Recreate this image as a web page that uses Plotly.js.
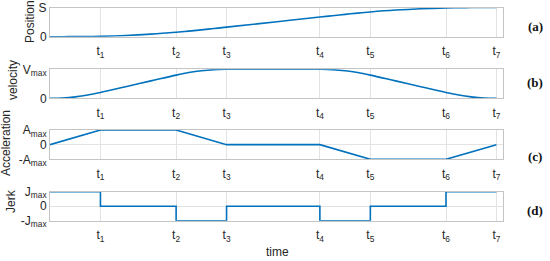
<!DOCTYPE html>
<html>
<head>
<meta charset="utf-8">
<script src="https://cdn.plot.ly/plotly-3.0.1.min.js"></script>
<style>html,body{margin:0;padding:0;background:#fff;}#chart{width:550px;height:261px;}</style>
</head>
<body>
<div id="chart"></div>
<script>
// switching instants t1..t7 (normalised time units)
const tickTimes = [1, 2.5, 3.5, 5.35, 6.35, 7.85, 8.85];
const tickLabels = ['t<sub>1</sub>','t<sub>2</sub>','t<sub>3</sub>','t<sub>4</sub>','t<sub>5</sub>','t<sub>6</sub>','t<sub>7</sub>'];

// (a) position, normalised to S
const posT = [0, 0.25, 0.5, 0.75, 1, 1.5, 2, 2.5, 2.75, 3, 3.25, 3.5, 4.5, 5.35, 5.6, 5.85, 6.1, 6.35, 6.85, 7.35, 7.85, 8.1, 8.35, 8.6, 8.85];
const posV = [0, 0.0002, 0.0016, 0.0053, 0.0125, 0.0405, 0.0872, 0.1526, 0.1922, 0.2352, 0.2806, 0.3271, 0.514, 0.6729, 0.7194, 0.7648, 0.8078, 0.8474, 0.9128, 0.9595, 0.9875, 0.9947, 0.9984, 0.9998, 1];

// (b) velocity, normalised to Vmax
const velT = [0, 0.25, 0.5, 0.75, 1, 1.5, 2, 2.5, 2.75, 3, 3.25, 3.5, 4.5, 5.35, 5.6, 5.85, 6.1, 6.35, 6.85, 7.35, 7.85, 8.1, 8.35, 8.6, 8.85];
const velV = [0, 0.0125, 0.05, 0.1125, 0.2, 0.4, 0.6, 0.8, 0.8875, 0.95, 0.9875, 1, 1, 1, 0.9875, 0.95, 0.8875, 0.8, 0.6, 0.4, 0.2, 0.1125, 0.05, 0.0125, 0];

// (c) acceleration, normalised to Amax
const accT = [0, 1, 2.5, 3.5, 5.35, 6.35, 7.85, 8.85];
const accV = [0, 1, 1, 0, 0, -1, -1, 0];

// (d) jerk, normalised to Jmax (step values)
const jerkT = [0, 1, 2.5, 3.5, 5.35, 6.35, 7.85, 8.85];
const jerkV = [1, 0, -1, 0, -1, 0, 1, 1];

const panelLabels = ['(a)', '(b)', '(c)', '(d)'];
const yTitles = ['Position', 'velocity', 'Acceleration', 'Jerk'];

const blue = '#0072BD';
const txt = '#262626';
const W = 550, H = 261, L = 50, R = 47;
const pw = W - L - R;
function px2x(p){ return (p - L) / pw; }
function px2y(p){ return 1 - p / H; }

const traces = [
  {x: posT, y: posV, xaxis: 'x', yaxis: 'y', mode: 'lines', line: {color: blue, width: 1.6, shape: 'spline'}},
  {x: velT, y: velV, xaxis: 'x2', yaxis: 'y2', mode: 'lines', line: {color: blue, width: 1.6, shape: 'spline'}},
  {x: accT, y: accV, xaxis: 'x3', yaxis: 'y3', mode: 'lines', line: {color: blue, width: 1.6}},
  {x: jerkT, y: jerkV, xaxis: 'x4', yaxis: 'y4', mode: 'lines', line: {color: blue, width: 1.6, shape: 'hv'}}
];
traces.forEach(t => { t.showlegend = false; t.hoverinfo = 'skip'; });

const boxPx = [[7.5, 36.7], [69.3, 98.3], [130, 159.3], [191.7, 220.7]];
const yTicks = [
  {vals: [0, 1], text: ['0', 'S'], range: [0, 1]},
  {vals: [0, 1], text: ['0', 'V<sub>max</sub>'], range: [0, 1]},
  {vals: [-1, 0, 1], text: ['-A<sub>max</sub>', '0', 'A<sub>max</sub>'], range: [-1, 1]},
  {vals: [-1, 0, 1], text: ['-J<sub>max</sub>', '0', 'J<sub>max</sub>'], range: [-1, 1]}
];

const layout = {
  width: W, height: H,
  margin: {l: L, r: R, t: 0, b: 0},
  paper_bgcolor: '#fff', plot_bgcolor: '#fff',
  font: {family: 'Liberation Sans, Arial, sans-serif', size: 12, color: txt},
  showlegend: false,
  annotations: []
};

for (let i = 0; i < 4; i++) {
  const xs = i === 0 ? 'xaxis' : 'xaxis' + (i + 1);
  const ys = i === 0 ? 'yaxis' : 'yaxis' + (i + 1);
  const yid = i === 0 ? 'y' : 'y' + (i + 1);
  const xid = i === 0 ? 'x' : 'x' + (i + 1);
  layout[xs] = {
    domain: [0, 1], anchor: yid, range: [0, 8.98],
    tickmode: 'array', tickvals: tickTimes, ticktext: tickLabels,
    ticks: '', ticklabelstandoff: 3, showgrid: true, gridcolor: '#e3e3e3', gridwidth: 1,
    zeroline: false, showline: true, mirror: true, linecolor: '#c4c4c4', linewidth: 1,
    tickfont: {size: 12, color: txt}, fixedrange: true
  };
  layout[ys] = {
    domain: [px2y(boxPx[i][1]), px2y(boxPx[i][0])], anchor: xid, range: yTicks[i].range,
    tickmode: 'array', tickvals: yTicks[i].vals, ticktext: yTicks[i].text,
    ticks: '', showgrid: true, gridcolor: '#e3e3e3', gridwidth: 1,
    zeroline: false, showline: true, mirror: true, linecolor: '#c4c4c4', linewidth: 1,
    tickfont: {size: 12, color: txt}, fixedrange: true
  };
}

const yTitlePos = [[30, 22], [13, 80], [6, 143], [11, 201]];
const panelLabelY = [27, 82, 156, 210];
for (let i = 0; i < 4; i++) {
  layout.annotations.push({
    xref: 'paper', yref: 'paper', x: px2x(yTitlePos[i][0]), y: px2y(yTitlePos[i][1]),
    text: yTitles[i], textangle: -90, showarrow: false,
    xanchor: 'center', yanchor: 'middle', font: {size: 12, color: txt}
  });
  layout.annotations.push({
    xref: 'paper', yref: 'paper', x: px2x(535), y: px2y(panelLabelY[i]),
    text: '<b>' + panelLabels[i] + '</b>', showarrow: false,
    xanchor: 'center', yanchor: 'middle',
    font: {family: 'Liberation Serif, Times New Roman, serif', size: 13, color: '#111'}
  });
}
layout.annotations.push({
  xref: 'paper', yref: 'paper', x: px2x(277), y: px2y(252),
  text: 'time', showarrow: false, xanchor: 'center', yanchor: 'middle',
  font: {size: 12, color: txt}
});

Plotly.newPlot('chart', traces, layout, {staticPlot: true, displayModeBar: false});
</script>
</body>
</html>
